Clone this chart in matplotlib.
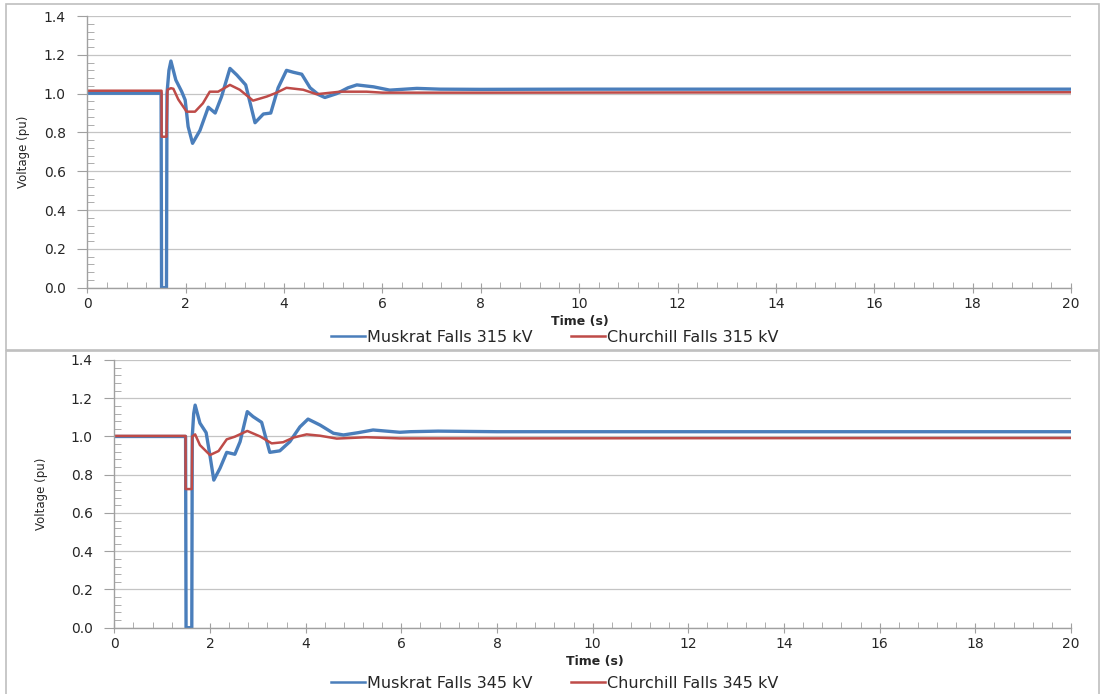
import matplotlib
matplotlib.use("Agg")
import matplotlib.pyplot as plt
from matplotlib.patches import Rectangle
from matplotlib.ticker import MultipleLocator, FormatStrFormatter

# ---- data ----
t_mf_315 = [0, 1.50, 1.51, 1.61, 1.62, 1.66, 1.70, 1.80, 1.92, 1.99, 2.05, 2.14, 2.29, 2.46, 2.60,
            2.73, 2.90, 3.04, 3.22, 3.41, 3.58, 3.73, 3.88, 4.05, 4.19, 4.36, 4.53, 4.70, 4.83,
            5.07, 5.30, 5.48, 5.82, 6.15, 6.70, 7.17, 8.0, 10, 14, 20]
v_mf_315 = [1.002, 1.002, 0.0, 0.0, 1.0, 1.12, 1.168, 1.07, 1.01, 0.967, 0.83, 0.744, 0.81, 0.93, 0.90,
            0.985, 1.13, 1.096, 1.045, 0.85, 0.895, 0.90, 1.03, 1.12, 1.11, 1.10, 1.03, 0.995, 0.98,
            1.0, 1.03, 1.045, 1.035, 1.018, 1.027, 1.023, 1.022, 1.023, 1.023, 1.023]

t_cf_315 = [0, 1.51, 1.511, 1.61, 1.63, 1.70, 1.75, 1.85, 2.02, 2.19, 2.35, 2.49, 2.66, 2.90, 3.10,
            3.37, 3.65, 3.85, 4.05, 4.39, 4.66, 5.14, 5.68, 6.0, 8, 12, 20]
v_cf_315 = [1.015, 1.015, 0.778, 0.778, 1.02, 1.028, 1.025, 0.97, 0.907, 0.907, 0.95, 1.01, 1.01, 1.045, 1.02,
            0.964, 0.985, 1.005, 1.03, 1.02, 0.997, 1.01, 1.01, 1.005, 1.005, 1.006, 1.007]

t_mf_345 = [0, 1.49, 1.50, 1.62, 1.63, 1.66, 1.69, 1.79, 1.92, 2.00, 2.08, 2.21, 2.35, 2.52, 2.63,
            2.78, 2.90, 3.08, 3.25, 3.46, 3.67, 3.88, 4.05, 4.30, 4.58, 4.79, 5.1, 5.41, 5.97,
            6.18, 6.77, 8, 12, 20]
v_mf_345 = [1.0, 1.0, 0.0, 0.0, 1.0, 1.12, 1.164, 1.07, 1.02, 0.90, 0.772, 0.834, 0.917, 0.907, 0.973,
            1.13, 1.104, 1.074, 0.917, 0.925, 0.973, 1.05, 1.091, 1.06, 1.017, 1.008, 1.02, 1.034, 1.022,
            1.025, 1.028, 1.025, 1.025, 1.025]

t_cf_345 = [0, 1.49, 1.491, 1.62, 1.63, 1.69, 1.79, 2.00, 2.18, 2.35, 2.52, 2.78, 3.05, 3.29, 3.53,
            3.74, 4.02, 4.30, 4.65, 5.27, 5.97, 8, 12, 20]
v_cf_345 = [1.003, 1.003, 0.725, 0.725, 1.0, 1.011, 0.955, 0.903, 0.924, 0.985, 0.999, 1.029, 1.0, 0.964, 0.97,
            0.994, 1.011, 1.004, 0.989, 0.996, 0.99, 0.99, 0.991, 0.992]

labels_top = ["Muskrat Falls 315 kV", "Churchill Falls 315 kV"]
labels_bot = ["Muskrat Falls 345 kV", "Churchill Falls 345 kV"]
x_label = "Time (s)"
y_label = "Voltage (pu)"

BLUE = "#4A7EBB"
RED = "#BE4B48"
GRID = "#C4C4C4"
SPINE = "#A0A0A0"
TXT = "#262626"

W, H = 1103, 694
fig = plt.figure(figsize=(W / 100, H / 100), dpi=100)

def fx(px):
    return px / W

def fy(py):
    return 1 - py / H

# panel frames
fig.patches.append(Rectangle((fx(6), fy(350)), fx(1099) - fx(6), fy(4) - fy(350),
                             transform=fig.transFigure, fill=False, edgecolor="#BFBFBF", lw=1.2))
fig.patches.append(Rectangle((fx(6), fy(700)), fx(1099) - fx(6), fy(351) - fy(700),
                             transform=fig.transFigure, fill=False, edgecolor="#BFBFBF", lw=1.2))

def make_panel(rect, t1, v1, t2, v2, labels, xlab_x, xlab_y, ylab_x, leg_y):
    l, r, top, bot = rect
    ax = fig.add_axes([fx(l), fy(bot), fx(r) - fx(l), fy(top) - fy(bot)])
    ax.plot(t1, v1, color=BLUE, lw=2.4, label=labels[0], solid_joinstyle="round")
    ax.plot(t2, v2, color=RED, lw=1.8, label=labels[1], solid_joinstyle="round")
    ax.set_xlim(0, 20)
    ax.set_ylim(0, 1.4)
    ax.xaxis.set_major_locator(MultipleLocator(2))
    ax.xaxis.set_minor_locator(MultipleLocator(0.4))
    ax.yaxis.set_major_locator(MultipleLocator(0.2))
    ax.yaxis.set_minor_locator(MultipleLocator(0.04))
    ax.yaxis.set_major_formatter(FormatStrFormatter("%.1f"))
    ax.grid(True, which="major", axis="y", color=GRID, lw=0.9)
    ax.set_axisbelow(True)
    for s in ("top", "right"):
        ax.spines[s].set_visible(False)
    for s in ("left", "bottom"):
        ax.spines[s].set_color(SPINE)
        ax.spines[s].set_linewidth(1.0)
    ax.tick_params(axis="y", which="major", direction="out", length=7, color=SPINE,
                   labelsize=10, labelcolor=TXT, pad=8.5)
    ax.tick_params(axis="y", which="minor", direction="in", length=5, color=SPINE)
    ax.tick_params(axis="x", which="major", direction="inout", length=7, color=SPINE,
                   labelsize=10, labelcolor=TXT, pad=3.5)
    ax.tick_params(axis="x", which="minor", direction="in", length=4, color=SPINE)
    fig.text(fx(xlab_x), fy(xlab_y), x_label, ha="center", va="center",
             fontsize=9, fontweight="bold", color=TXT)
    fig.text(fx(ylab_x), fy((top + bot) / 2), y_label, ha="center", va="center", rotation=90,
             fontsize=8.5, color=TXT, family=["Liberation Sans Narrow", "DejaVu Sans"])
    ax.legend(loc="center", bbox_to_anchor=(fx(555), fy(leg_y)), bbox_transform=fig.transFigure,
              ncol=2, frameon=False, fontsize=11.5, handlelength=2.1, handletextpad=0.15,
              columnspacing=2.4, labelcolor=TXT)
    for line in ax.get_legend().get_lines():
        line.set_linewidth(1.8)
    return ax

make_panel((87.3, 1071, 16, 287.7), t_mf_315, v_mf_315, t_cf_315, v_cf_315, labels_top,
           580, 321, 24, 337)
make_panel((114.3, 1071, 360, 627.7), t_mf_345, v_mf_345, t_cf_345, v_cf_345, labels_bot,
           595, 661, 41, 683)

fig.savefig("out.png", dpi=100)
